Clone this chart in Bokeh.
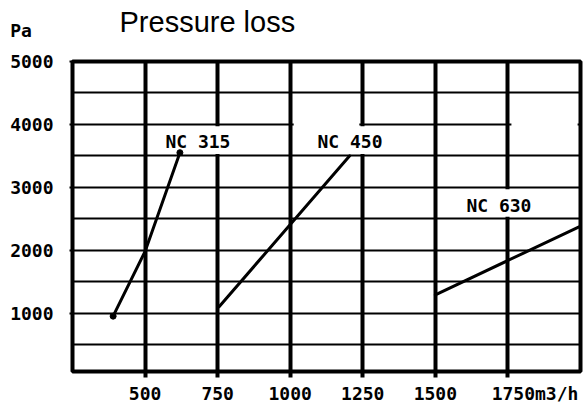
from bokeh.plotting import figure
from bokeh.models import FixedTicker, Label
from bokeh.core.properties import value
from bokeh.embed import file_html
from bokeh.resources import INLINE

# ---- data ----
nc315_x = [390, 500, 620]
nc315_y = [950, 1980, 3550]
nc450_x = [755, 1205]
nc450_y = [1100, 3500]
nc630_x = [1500, 1995]
nc630_y = [1290, 2370]

label_text = ["NC 315", "NC 450", "NC 630"]
label_x = [570, 1094, 1607]
label_y = [3730, 3720, 2706]

x_ticks = [500, 750, 1000, 1250, 1500, 1750]
y_ticks = [1000, 2000, 3000, 4000, 5000]
y_grid = [500, 1000, 1500, 2000, 2500, 3000, 3500, 4000, 4500]

title_text = "Pressure loss"
y_unit = "Pa"
x_unit = "m3/h"

# white boxes behind the curve labels (gaps in the hand drawn grid)
mask_left = [512, 1012, 1512, 1012, 1762]
mask_right = [988, 1488, 1990, 1238, 1990]
mask_bottom = [3530, 3530, 2530, 3960, 3960]
mask_top = [3970, 3970, 2970, 4040, 4040]

MONO = "DejaVu Sans Mono"
NB = "\u00a0"

p = figure(width=584, height=406, x_range=(250, 2000), y_range=(70, 5000),
           output_backend="svg", toolbar_location=None, title=None,
           min_border_left=72, min_border_right=4, min_border_top=61,
           min_border_bottom=30)
p.background_fill_color = "white"
p.border_fill_color = "white"
p.outline_line_color = "black"
p.outline_line_width = 4

# title as a label in the top panel (not clipped to the frame)
p.add_layout(Label(x=250, y=5000, x_units="data", y_units="data",
                   text=title_text, x_offset=47, y_offset=40,
                   text_font="Liberation Sans", text_font_size="29px",
                   text_font_style="normal", text_color="black",
                   text_align="left", text_baseline="alphabetic"), "above")

# x axis
p.xaxis.ticker = FixedTicker(ticks=x_ticks, minor_ticks=[])
p.xaxis.axis_line_color = None
p.xaxis.major_tick_out = 6
p.xaxis.major_tick_in = 0
p.xaxis.major_tick_line_width = 4
p.xaxis.minor_tick_out = 0
p.xaxis.major_label_standoff = 5
p.xaxis.major_label_overrides = {x_ticks[-1]: NB * 5 + str(x_ticks[-1]) + x_unit}

# y axis
p.yaxis.ticker = FixedTicker(ticks=y_ticks, minor_ticks=[])
p.yaxis.axis_line_color = None
p.yaxis.major_tick_out = 3
p.yaxis.major_tick_in = 0
p.yaxis.major_tick_line_width = 2
p.yaxis.minor_tick_out = 0
p.yaxis.major_label_standoff = 16
p.yaxis.major_label_text_line_height = 1.5
p.yaxis.major_label_overrides = {
    y_ticks[-1]: y_unit + NB * 2 + "\n" + str(y_ticks[-1]) + "\n" + NB}

for ax in (p.xaxis, p.yaxis):
    ax.major_label_text_font = MONO
    ax.major_label_text_font_style = "bold"
    ax.major_label_text_font_size = "18px"
    ax.major_label_text_color = "black"
    ax.major_tick_line_color = "black"

# grids
p.xgrid.ticker = FixedTicker(ticks=x_ticks, minor_ticks=[])
p.xgrid.grid_line_color = "black"
p.xgrid.grid_line_width = 4
p.ygrid.ticker = FixedTicker(ticks=y_grid, minor_ticks=[])
p.ygrid.grid_line_color = "black"
p.ygrid.grid_line_width = 2

# label boxes
p.quad(left=mask_left, right=mask_right, bottom=mask_bottom, top=mask_top,
       fill_color="white", line_color=None)

# curves
for xs, ys in ((nc315_x, nc315_y), (nc450_x, nc450_y), (nc630_x, nc630_y)):
    p.line(xs, ys, line_width=3, line_color="black", line_cap="round")
p.scatter([nc315_x[0], nc315_x[-1]], [nc315_y[0], nc315_y[-1]], size=6,
          color="black")

p.text(x=label_x, y=label_y, text=label_text, text_font=value(MONO),
       text_font_style="bold", text_font_size="18px", text_baseline="middle",
       text_align="left", text_color="black")

open("out.html", "w").write(file_html(p, INLINE))
